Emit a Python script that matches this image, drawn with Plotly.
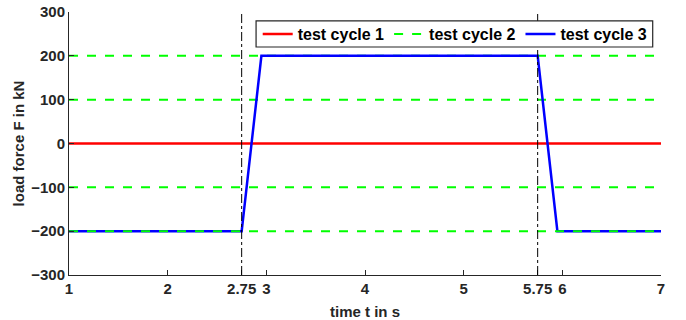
import plotly.graph_objects as go

# time axis (s) and load force (kN) for the three test cycles
t_span = [1, 7]
cycle1_force = [0, 0]

# test cycle 2: constant load levels
cycle2_levels = [200, 100, -100, -200]

# test cycle 3: block load with ramps
cycle3_time = [1, 2.75, 2.95, 5.75, 5.95, 7]
cycle3_force = [-200, -200, 200, 200, -200, -200]

# switching instants
switch_times = [2.75, 5.75]

x_ticks = [1, 2, 2.75, 3, 4, 5, 5.75, 6, 7]
y_ticks = [-300, -200, -100, 0, 100, 200, 300]

GREEN = "#00FF00"
AXIS = "#262626"
TITLE_FONT = dict(family="Liberation Sans, Arial, sans-serif", size=15, color=AXIS, weight="bold")


def level_segments(levels):
    xs, ys = [], []
    for lv in levels:
        xs += [t_span[0], t_span[1], None]
        ys += [lv, lv, None]
    return xs, ys


upper_x, upper_y = level_segments(cycle2_levels[:3])
lower_x, lower_y = level_segments(cycle2_levels[3:])

fig = go.Figure()
fig.add_trace(go.Scatter(x=t_span, y=cycle1_force, mode="lines", name="test cycle 1",
                         line=dict(color="#FF0000", width=2.5)))
fig.add_trace(go.Scatter(x=upper_x, y=upper_y, mode="lines", name="test cycle 2",
                         line=dict(color=GREEN, width=2, dash="dash")))
fig.add_trace(go.Scatter(x=cycle3_time, y=cycle3_force, mode="lines", name="test cycle 3",
                         line=dict(color="#0000FF", width=2.5)))
fig.add_trace(go.Scatter(x=lower_x, y=lower_y, mode="lines", name="test cycle 2",
                         showlegend=False,
                         line=dict(color=GREEN, width=2, dash="dash")))

for ts in switch_times:
    fig.add_shape(type="line", xref="x", yref="paper", x0=ts, x1=ts, y0=0, y1=1,
                  line=dict(color="black", width=1, dash="dashdot"))

# white framed panel behind the legend entries
fig.add_shape(type="rect", xref="paper", yref="paper", x0=0.316, x1=0.986, y0=0.867, y1=0.966,
              fillcolor="white", line=dict(color=AXIS, width=1.2), layer="above")

fig.update_layout(
    width=686, height=320,
    margin=dict(l=69, r=25, t=12, b=45, autoexpand=False),
    paper_bgcolor="white", plot_bgcolor="white",
    font=dict(family="Liberation Sans, Arial, sans-serif", size=15, color=AXIS, weight="bold"),
    showlegend=True,
    legend=dict(orientation="h", x=0.986, xanchor="right", y=0.981, yanchor="top",
                bgcolor="rgba(0,0,0,0)", borderwidth=0,
                font=dict(size=16, color="black", weight="bold"),
                itemwidth=30, tracegroupgap=0),
)
fig.update_xaxes(range=[1, 7], tickmode="array", tickvals=x_ticks,
                 ticktext=[f"{v:g}" for v in x_ticks],
                 showline=True, linecolor=AXIS, linewidth=1, mirror=False,
                 ticks="inside", ticklen=5, tickcolor=AXIS, showgrid=False, zeroline=False,
                 automargin=False,
                 title=dict(text="time t in s", standoff=10, font=TITLE_FONT))
fig.update_yaxes(range=[-300, 300], tickmode="array", tickvals=y_ticks,
                 showline=True, linecolor=AXIS, linewidth=1, mirror=False,
                 ticks="inside", ticklen=5, tickcolor=AXIS, showgrid=False, zeroline=False,
                 automargin=False,
                 title=dict(text="load force F in kN", standoff=2, font=TITLE_FONT))

fig.write_html("out.html")
